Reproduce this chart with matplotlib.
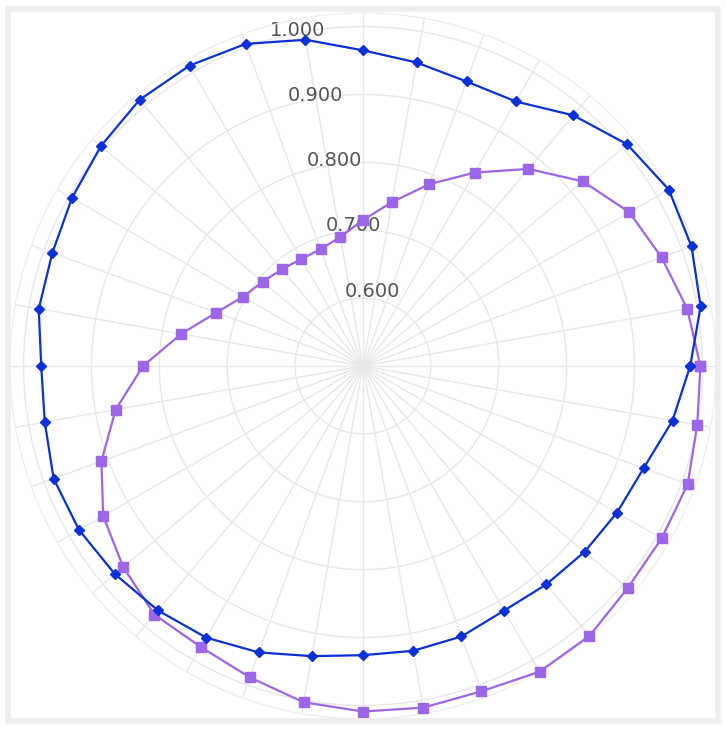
import numpy as np
import matplotlib
matplotlib.use("Agg")
import matplotlib.pyplot as plt
from matplotlib.patches import Rectangle

# angles in degrees (counter-clockwise from east)
angles = list(range(0, 360, 10))

blue_r = [0.982, 1.005, 1.015, 1.020, 1.008, 0.982, 0.950, 0.946, 0.954, 0.965,
          0.988, 1.005, 1.011, 1.012, 1.004, 0.995, 0.987, 0.985, 0.974, 0.976,
          0.985, 0.983, 0.977, 0.970, 0.962, 0.949, 0.934, 0.926, 0.926, 0.924,
          0.916, 0.920, 0.926, 0.932, 0.940, 0.963]

purple_r = [0.997, 0.985, 0.968, 0.953, 0.923, 0.879, 0.829, 0.785, 0.745, 0.715,
            0.693, 0.683, 0.682, 0.686, 0.693, 0.704, 0.730, 0.772, 0.824, 0.870,
            0.910, 0.942, 0.961, 0.978, 0.978, 0.988, 1.003, 1.009, 1.011, 1.010,
            1.020, 1.019, 1.009, 1.008, 1.009, 1.000]

r_ticks = [0.6, 0.7, 0.8, 0.9, 1.0]

theta = np.deg2rad(angles + [angles[0]])
blue = blue_r + [blue_r[0]]
purple = purple_r + [purple_r[0]]

fig = plt.figure(figsize=(7.26, 7.29), dpi=100)
ax = fig.add_axes([10 / 726, 10 / 729, 706 / 726, 706 / 729], projection='polar')

ax.plot(theta, purple, color='#9d65e8', lw=1.6, marker='s', ms=7,
        zorder=3, clip_on=False)
ax.plot(theta, blue, color='#0a30d8', lw=1.6, marker='D', ms=5.5,
        zorder=4, clip_on=False)

ax.set_rlim(0.5, 1.02)
ax.set_rticks(r_ticks)
ax.set_yticklabels(['%.3f' % v for v in r_ticks], fontsize=14, color='#555555')
ax.set_rlabel_position(106)
ax.set_thetagrids(angles, labels=[''] * len(angles))
ax.grid(color='#e8e8e8', lw=1.0)
ax.spines['polar'].set_color('#ececec')

# light frame around the plot area
fig.patches.append(Rectangle((8 / 726, 8 / 729), 710 / 726, 712 / 729,
                             transform=fig.transFigure, fill=False,
                             edgecolor='#eeeeee', lw=4))

fig.savefig('out.png', dpi=100)
